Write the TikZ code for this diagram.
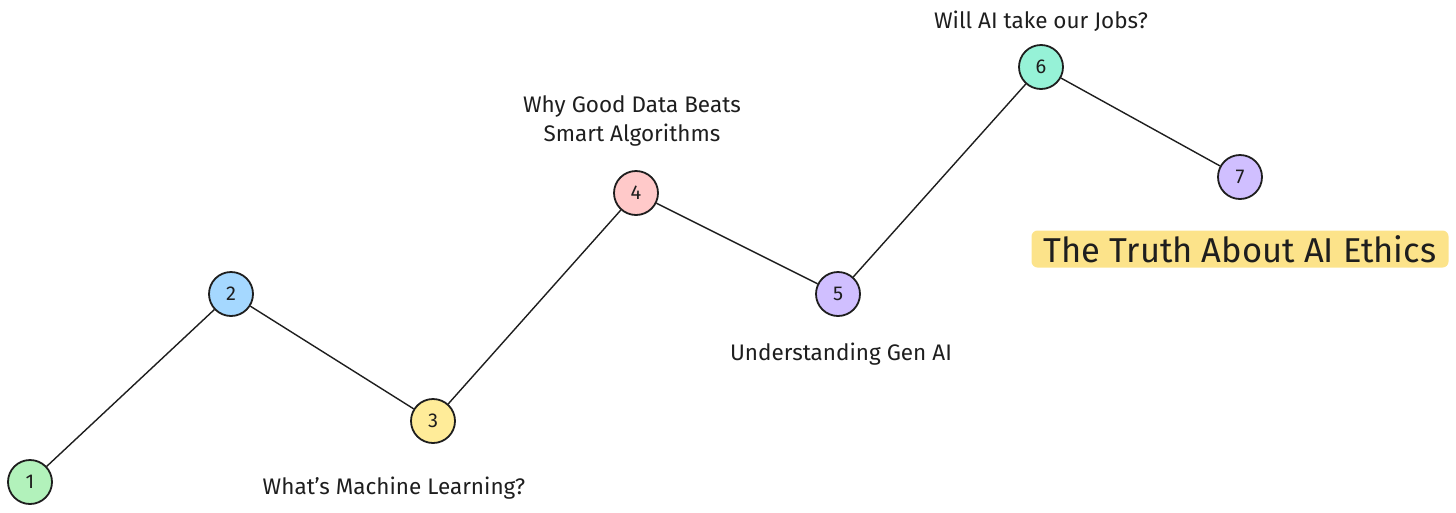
\documentclass[tikz,border=0pt]{standalone}
\usepackage{fontspec}
\setmainfont{Fira Sans}
\definecolor{cgreen}{HTML}{B2F2BB}
\definecolor{cblue}{HTML}{A5D8FF}
\definecolor{cyellow}{HTML}{FFEC99}
\definecolor{cpink}{HTML}{FFC9C9}
\definecolor{cviolet}{HTML}{D0BFFF}
\definecolor{cteal}{HTML}{96F2D7}
\definecolor{hilite}{HTML}{FCE38A}
\definecolor{ink}{HTML}{1E1E1E}
\begin{document}
\begin{tikzpicture}[x=1pt,y=-1pt,
  stepnode/.style={circle,draw=ink,line width=1.8pt,minimum size=44pt,inner sep=0pt,font=\fontsize{20}{22}\selectfont,text=ink},
  link/.style={draw=ink,line width=1.4pt},
  lbl/.style={font=\fontsize{22.5}{29}\selectfont,text=ink,align=center,inner sep=0pt},
  hl/.style={fill=hilite,rounded corners=6pt,font=\fontsize{34.5}{36}\selectfont,text=ink,inner xsep=8pt,inner ysep=0pt,minimum height=37pt,minimum width=417pt}]
\useasboundingbox (0,0) rectangle (1456,512);
\node[stepnode,fill=cgreen] (n1) at (30,482) {1};
\node[stepnode,fill=cblue] (n2) at (231,294) {2};
\node[stepnode,fill=cyellow] (n3) at (433,421) {3};
\node[stepnode,fill=cpink] (n4) at (636,193) {4};
\node[stepnode,fill=cviolet] (n5) at (838,294) {5};
\node[stepnode,fill=cteal] (n6) at (1041,67) {6};
\node[stepnode,fill=cviolet] (n7) at (1240,177) {7};
\draw[link] (n1) -- (n2);
\draw[link] (n2) -- (n3);
\draw[link] (n3) -- (n4);
\draw[link] (n4) -- (n5);
\draw[link] (n5) -- (n6);
\draw[link] (n6) -- (n7);
\node[lbl] (t3) at (394,488) {What's Machine Learning?};
\node[lbl] (t4) at (632,121) {Why Good Data Beats\\Smart Algorithms};
\node[lbl] (t5) at (841,354) {Understanding Gen AI};
\node[lbl] (t6) at (1041,21) {Will AI take our Jobs?};
\node[hl] (t7) at (1240,249) {The Truth About AI Ethics};
\end{tikzpicture}
\end{document}
